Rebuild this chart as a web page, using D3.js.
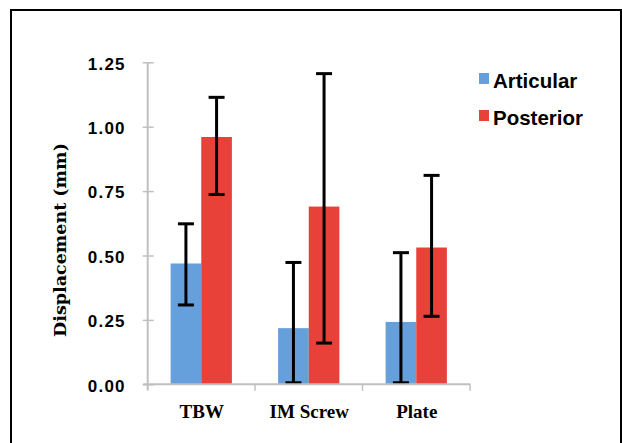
<!DOCTYPE html>
<html>
<head>
<meta charset="utf-8">
<script src="https://cdn.jsdelivr.net/npm/d3@7"></script>
<style>
  body { margin: 0; background: #fff; }
  svg { display: block; }
</style>
</head>
<body>
<script>
// data
var categories = ["TBW", "IM Screw", "Plate"];
var series = ["Articular", "Posterior"];
var articular = [0.469, 0.218, 0.242];
var posterior = [0.960, 0.690, 0.531];
var articularHi = [0.623, 0.473, 0.511];
var articularLo = [0.308, 0.006, 0.006];
var posteriorHi = [1.114, 1.206, 0.811];
var posteriorLo = [0.737, 0.160, 0.264];
var yTicks = [0, 0.25, 0.5, 0.75, 1.0, 1.25];

var colours = { Articular: "#659fdc", Posterior: "#e8413a" };

var width = 622, height = 443;

var svg = d3.select("body").append("svg")
    .attr("width", width)
    .attr("height", height);

svg.append("rect")
    .attr("width", width).attr("height", height)
    .attr("fill", "#fff");

// outer frame
svg.append("rect")
    .attr("x", 11).attr("y", 10)
    .attr("width", 610).attr("height", 450)
    .attr("fill", "none")
    .attr("stroke", "#000")
    .attr("stroke-width", 2);

var y = d3.scaleLinear().domain([0, 1.25]).range([384.3, 62.3]);

var x0 = d3.scaleBand().domain(categories)
    .range([147.5, 470])
    .paddingInner(0.43).paddingOuter(0.215);

var x1 = d3.scaleBand().domain(series).range([0, x0.bandwidth()]);

var rows = categories.map((c, i) => ({
  cat: c,
  vals: [
    { s: "Articular", v: articular[i], lo: articularLo[i], hi: articularHi[i] },
    { s: "Posterior", v: posterior[i], lo: posteriorLo[i], hi: posteriorHi[i] }
  ]
}));

// bars
var grp = svg.append("g").selectAll("g")
    .data(rows)
  .enter().append("g")
    .attr("transform", d => "translate(" + x0(d.cat) + ",0)");

grp.selectAll("rect")
    .data(d => d.vals)
  .enter().append("rect")
    .attr("x", d => x1(d.s))
    .attr("y", d => y(d.v))
    .attr("width", x1.bandwidth())
    .attr("height", d => y(0) - y(d.v))
    .attr("fill", d => colours[d.s]);

// y axis
var yAxis = svg.append("g")
    .attr("transform", "translate(147.7,0)")
    .call(d3.axisLeft(y).tickValues(yTicks).tickFormat(d3.format(".2f")).tickSize(5));

yAxis.select(".domain")
    .attr("d", "M0," + y(1.25) + "V390.5")
    .attr("stroke", "#c0c0c0").attr("stroke-width", 2);
yAxis.selectAll(".tick line")
    .attr("x1", -5).attr("x2", 6)
    .attr("stroke", "#c0c0c0").attr("stroke-width", 1.5);
yAxis.selectAll(".tick text")
    .attr("x", -22)
    .attr("dy", "0.4em")
    .attr("fill", "#000")
    .style("font-family", "'Liberation Sans', Arial, sans-serif")
    .style("font-weight", "bold")
    .style("font-size", "17px")
    .style("letter-spacing", "1.2px");

// x axis line + boundary ticks
var step = x0.step();
var bounds = d3.range(categories.length + 1).map(i => x0.range()[0] + i * step);

svg.append("line")
    .attr("x1", 143.3).attr("x2", 470.5)
    .attr("y1", y(0)).attr("y2", y(0))
    .attr("stroke", "#c0c0c0").attr("stroke-width", 2);

svg.selectAll(".xtick")
    .data(bounds.slice(1))
  .enter().append("line")
    .attr("class", "xtick")
    .attr("x1", d => d).attr("x2", d => d)
    .attr("y1", y(0)).attr("y2", y(0) + 6.5)
    .attr("stroke", "#c0c0c0").attr("stroke-width", 1.5);

svg.selectAll(".xlab")
    .data(categories)
  .enter().append("text")
    .attr("class", "xlab")
    .attr("x", d => x0(d) + x0.bandwidth() / 2 + 0.5)
    .attr("y", 417.7)
    .attr("text-anchor", "middle")
    .style("font-family", "'Liberation Serif', 'Times New Roman', serif")
    .style("font-weight", "bold")
    .style("font-size", "19px")
    .text(d => d);

// error bars
var eb = grp.selectAll(".err")
    .data(d => d.vals)
  .enter().append("g")
    .attr("class", "err")
    .attr("transform", d => "translate(" + (x1(d.s) + x1.bandwidth() / 2) + ",0)")
    .attr("stroke", "#000")
    .attr("stroke-width", 3);

eb.append("line")
    .attr("y1", d => y(d.lo)).attr("y2", d => y(d.hi));
eb.append("line")
    .attr("x1", -8).attr("x2", 8)
    .attr("y1", d => y(d.hi)).attr("y2", d => y(d.hi));
eb.append("line")
    .attr("x1", -8).attr("x2", 8)
    .attr("y1", d => y(d.lo)).attr("y2", d => y(d.lo));

// y title
svg.append("text")
    .attr("transform", "translate(66,240) rotate(-90)")
    .attr("text-anchor", "middle")
    .style("font-family", "'DejaVu Serif', serif")
    .style("font-weight", "bold")
    .style("font-size", "17.5px")
    .text("Displacement (mm)");

// legend
var lg = svg.selectAll(".leg")
    .data(series)
  .enter().append("g")
    .attr("class", "leg")
    .attr("transform", (d, i) => "translate(479," + (73 + i * 37) + ")");

lg.append("rect")
    .attr("width", 10).attr("height", 11)
    .attr("fill", d => colours[d]);

lg.append("text")
    .attr("x", 14).attr("y", 15)
    .style("font-family", "'Liberation Sans', Arial, sans-serif")
    .style("font-weight", "bold")
    .style("font-size", "20.5px")
    .text(d => d);
</script>
</body>
</html>
